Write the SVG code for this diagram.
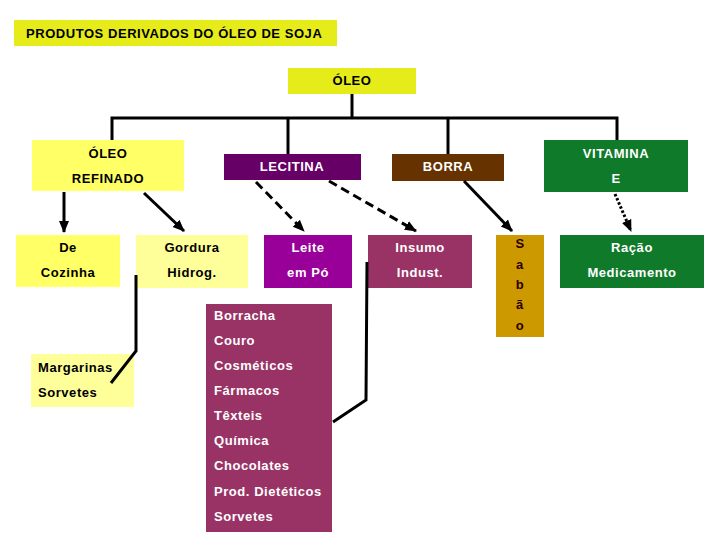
<svg xmlns="http://www.w3.org/2000/svg" width="720" height="540" viewBox="0 0 720 540">
<style>
text{font-family:"Liberation Sans",Arial,sans-serif;font-weight:bold;font-size:13px;letter-spacing:0.55px}
.c{text-anchor:middle}
.w{fill:#ffffff}
.k{fill:#000000}
.s{fill:#2a0000}
.ln{stroke:#000;stroke-width:3;fill:none}
.dash{stroke-dasharray:9 5}
.dot{stroke-dasharray:2.5 2}
</style>
<defs>
<marker id="ah" markerUnits="userSpaceOnUse" markerWidth="12" markerHeight="12" viewBox="0 0 12 12" refX="11" refY="6" orient="auto">
<path d="M0,1 L12,6 L0,11 Z" fill="#000"/>
</marker>
</defs>
<rect width="720" height="540" fill="#fff"/>
<g id="title"><rect x="14" y="20" width="323" height="26" fill="#e5ec1a"/><text x="26" y="38" class="k">PRODUTOS DERIVADOS DO ÓLEO DE SOJA</text></g>
<g id="oleo"><rect x="288" y="68" width="128" height="26" fill="#e5ec1a"/><text x="352" y="85" class="c k">ÓLEO</text></g>
<g id="refinado"><rect x="32" y="140" width="152" height="51" fill="#ffff66"/><text x="108" y="158" class="c k">ÓLEO</text><text x="108" y="183" class="c k">REFINADO</text></g>
<g id="lecitina"><rect x="224" y="154" width="137" height="26" fill="#660066"/><text x="292" y="171" class="c w">LECITINA</text></g>
<g id="borra"><rect x="392" y="154" width="112" height="27" fill="#663300"/><text x="448" y="171" class="c w">BORRA</text></g>
<g id="vitamina"><rect x="544" y="140" width="144" height="52" fill="#0f7a2a"/><text x="616" y="158" class="c w">VITAMINA</text><text x="616" y="183" class="c w">E</text></g>
<g id="cozinha"><rect x="16" y="235" width="104" height="52" fill="#ffff66"/><text x="68" y="252" class="c k">De</text><text x="68" y="277" class="c k">Cozinha</text></g>
<g id="gordura"><rect x="136" y="235" width="112" height="53" fill="#ffff99"/><text x="192" y="252" class="c k">Gordura</text><text x="192" y="277" class="c k">Hidrog.</text></g>
<g id="leite"><rect x="264" y="235" width="88" height="53" fill="#990099"/><text x="308" y="252" class="c w">Leite</text><text x="308" y="277" class="c w">em Pó</text></g>
<g id="insumo"><rect x="368" y="235" width="104" height="53" fill="#993366"/><text x="420" y="252" class="c w">Insumo</text><text x="420" y="277" class="c w">Indust.</text></g>
<g id="sabao"><rect x="496" y="235" width="48" height="102" fill="#cc9900"/>
<text x="520" y="248" class="c s">S</text><text x="520" y="269" class="c s">a</text><text x="520" y="289" class="c s">b</text><text x="520" y="309" class="c s">ã</text><text x="520" y="330" class="c s">o</text></g>
<g id="racao"><rect x="560" y="235" width="144" height="53" fill="#0f7a2a"/><text x="632" y="252" class="c w">Ração</text><text x="632" y="277" class="c w">Medicamento</text></g>
<g id="margarinas"><rect x="31" y="354" width="103" height="53" fill="#ffff99"/><text x="38" y="372" class="k">Margarinas</text><text x="38" y="397" class="k">Sorvetes</text></g>
<g id="industriais"><rect x="206" y="304" width="126" height="228" fill="#993366"/>
<text x="214" y="320" class="w">Borracha</text>
<text x="214" y="345" class="w">Couro</text>
<text x="214" y="370" class="w">Cosméticos</text>
<text x="214" y="395" class="w">Fármacos</text>
<text x="214" y="420" class="w">Têxteis</text>
<text x="214" y="445" class="w">Química</text>
<text x="214" y="470" class="w">Chocolates</text>
<text x="214" y="496" class="w">Prod. Dietéticos</text>
<text x="214" y="521" class="w">Sorvetes</text></g>
<g id="connectors">
<polyline class="ln" points="352,94 352,118"/>
<polyline class="ln" points="112,140 112,118 617,118 617,140"/>
<polyline class="ln" points="288,118 288,154"/>
<polyline class="ln" points="448,118 448,154"/>
<line class="ln" x1="64" y1="192" x2="64" y2="232" marker-end="url(#ah)"/>
<line class="ln" x1="144" y1="193" x2="184" y2="231" marker-end="url(#ah)"/>
<line class="ln dash" x1="256" y1="182" x2="304" y2="231" marker-end="url(#ah)"/>
<line class="ln dash" x1="329" y1="181" x2="416" y2="231" marker-end="url(#ah)"/>
<line class="ln" x1="464" y1="181" x2="512" y2="231" marker-end="url(#ah)"/>
<line class="ln dot" x1="615" y1="194" x2="631" y2="231" marker-end="url(#ah)"/>
<polyline class="ln" points="136,275 136,351 111,383"/>
<polyline class="ln" points="367,262 366,400 333,422"/>
</g>
</svg>
